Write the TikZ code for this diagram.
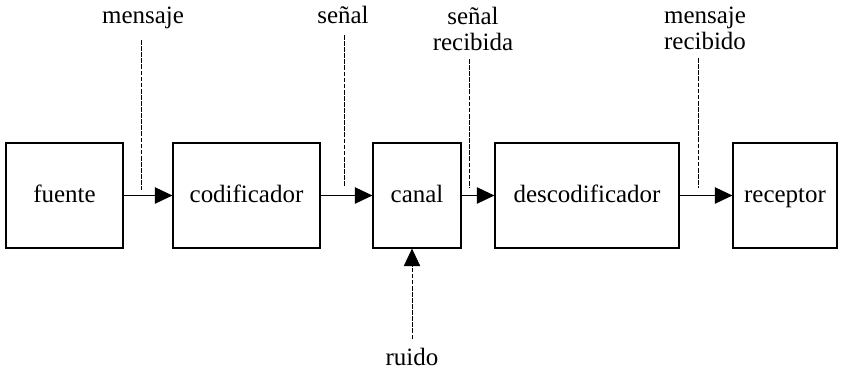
\documentclass[tikz,border=0pt]{standalone}
\usepackage{fontspec}
\setmainfont{Liberation Serif}
\usetikzlibrary{
  arrows.meta,
  positioning
}

\begin{document}
\begin{tikzpicture}[
  x=0.03cm, y=-0.03cm,
  block/.style={
    rectangle, draw=black, line width=1pt,
    minimum height=3.15cm, inner sep=0pt,
    text height=1.2em, text depth=0pt,
    font=\fontsize{21.3}{22}\selectfont
  },
  tagtext/.style={
    inner sep=0pt, align=center,
    font=\fontsize{21.3}{22}\selectfont
  },
  flow/.style={
    -{Triangle[length=15pt,width=14pt]}, line width=1pt
  },
  tap/.style={
    dash pattern=on 4pt off 1.2pt, line width=0.7pt
  }
]
  \useasboundingbox (0,0) rectangle (842,369);

  % Blocks
  \node[block, minimum width=3.51cm] (fuente) at (64.5,195.5) {fuente};
  \node[block, minimum width=4.41cm] (codif) at (246.5,195.5) {codificador};
  \node[block, minimum width=2.64cm] (canal) at (417,195.5) {canal};
  \node[block, minimum width=5.52cm] (descod) at (587,195.5) {descodificador};
  \node[block, minimum width=3.12cm] (recep) at (785,195.5) {receptor};

  % Labels
  \node[tagtext, anchor=base] (mensaje) at (143,24) {mensaje};
  \node[tagtext, anchor=base] (senal) at (343,24) {señal};
  \node[tagtext, anchor=north] (senalrec) at (473,7) {señal\\recibida};
  \node[tagtext, anchor=north] (mensrec) at (705,7) {mensaje\\recibido};
  \node[tagtext, anchor=base] (ruido) at (412,365) {ruido};

  % Taps on the flow lines
  \coordinate (t1) at (141,190);
  \coordinate (t2) at (344,186);
  \coordinate (t3) at (469,188);
  \coordinate (t4) at (698,188);

  % Connections
  \draw[flow] (fuente) -- (codif);
  \draw[flow] (codif) -- (canal);
  \draw[flow] (canal) -- (descod);
  \draw[flow] (descod) -- (recep);
  \draw[tap, shorten <=9pt] (mensaje.south -| t1) -- (t1);
  \draw[tap, shorten <=9pt] (senal.south -| t2) -- (t2);
  \draw[tap, shorten <=7pt] (senalrec.south -| t3) -- (t3);
  \draw[tap, shorten <=7pt] (mensrec.south -| t4) -- (t4);
  \draw[tap, -{Triangle[length=15pt,width=14pt]}, shorten <=7pt]
    (ruido.north) -- (ruido.north |- canal.south);
\end{tikzpicture}
\end{document}
